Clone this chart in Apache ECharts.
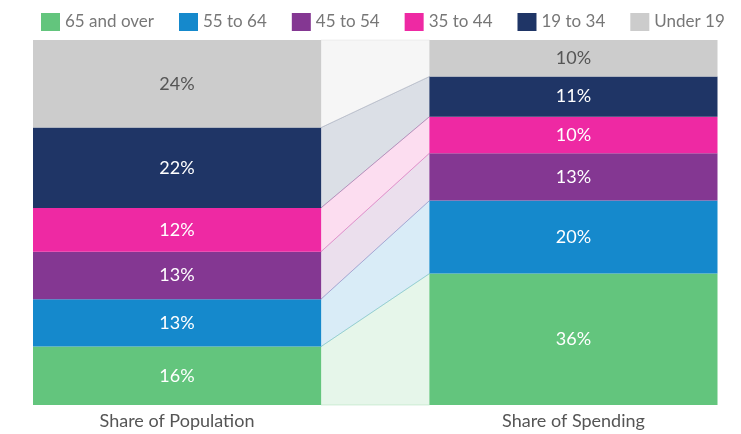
<!DOCTYPE html>
<html><head><meta charset="utf-8">
<script src="https://cdn.jsdelivr.net/npm/echarts@6/dist/echarts.min.js"></script>
<style>html,body{margin:0;padding:0;background:#fff}#c{width:741px;height:434px}</style>
</head><body><div id="c"></div>
<script>
const categories = ['Share of Population', 'Share of Spending'];
const groups = ['65 and over', '55 to 64', '45 to 54', '35 to 44', '19 to 34', 'Under 19'];
const population = [16, 13, 13, 12, 22, 24];
const spending = [36, 20, 13, 10, 11, 10];
const colors = ['#63c57d', '#1589cc', '#843792', '#ee29a3', '#1f3566', '#cccccc'];
const labelColors = ['#fff', '#fff', '#fff', '#fff', '#fff', '#555'];

const BAR_W = 288;
const chart = echarts.init(document.getElementById('c'));

const bands = [];
let cl = 0, cr = 0;
groups.forEach((g, i) => {
  bands.push([cl, cl + population[i], cr, cr + spending[i], i]);
  cl += population[i]; cr += spending[i];
});

function hexA(hex, a) {
  const n = parseInt(hex.slice(1), 16);
  return `rgba(${(n >> 16) & 255},${(n >> 8) & 255},${n & 255},${a})`;
}

const series = groups.map((g, i) => ({
  name: g, type: 'bar', stack: 'all', barWidth: BAR_W, clip: false,
  itemStyle: { color: colors[i] },
  label: { show: true, position: 'inside', color: labelColors[i], fontFamily: 'Lato', fontSize: 18, formatter: '{c}%' },
  data: [population[i], spending[i]],
  z: 3
}));

series.push({
  type: 'custom', name: 'bands', clip: false, z: 1,
  data: bands,
  renderItem: function (params, api) {
    const ll = api.coord([0, api.value(0)]);
    const lh = api.coord([0, api.value(1)]);
    const rl = api.coord([1, api.value(2)]);
    const rh = api.coord([1, api.value(3)]);
    const idx = api.value(4);
    const xl = ll[0] + BAR_W / 2, xr = rl[0] - BAR_W / 2;
    return {
      type: 'polygon',
      shape: { points: [[xl, ll[1]], [xl, lh[1]], [xr, rh[1]], [xr, rl[1]]] },
      style: { fill: hexA(colors[idx], idx === 5 ? 0.17 : 0.16), stroke: hexA(colors[idx], 0.25), lineWidth: 1 }
    };
  },
  silent: true
});

chart.setOption({
  animation: false,
  color: colors,
  legend: {
    data: groups, top: 8, left: 36, itemWidth: 19, itemHeight: 18, itemGap: 25,
    icon: 'rect',
    textStyle: { color: '#777', fontFamily: 'Lato', fontSize: 17 }
  },
  grid: { left: 177, right: 167.5, top: 40, bottom: 29 },
  xAxis: {
    type: 'category', data: categories, boundaryGap: false,
    axisLine: { show: false }, axisTick: { show: false }, splitLine: { show: false },
    axisLabel: { color: '#555', fontFamily: 'Lato', fontSize: 18, margin: 7 }
  },
  yAxis: { type: 'value', min: 0, max: 100, show: false },
  series: series
});
</script></body></html>
